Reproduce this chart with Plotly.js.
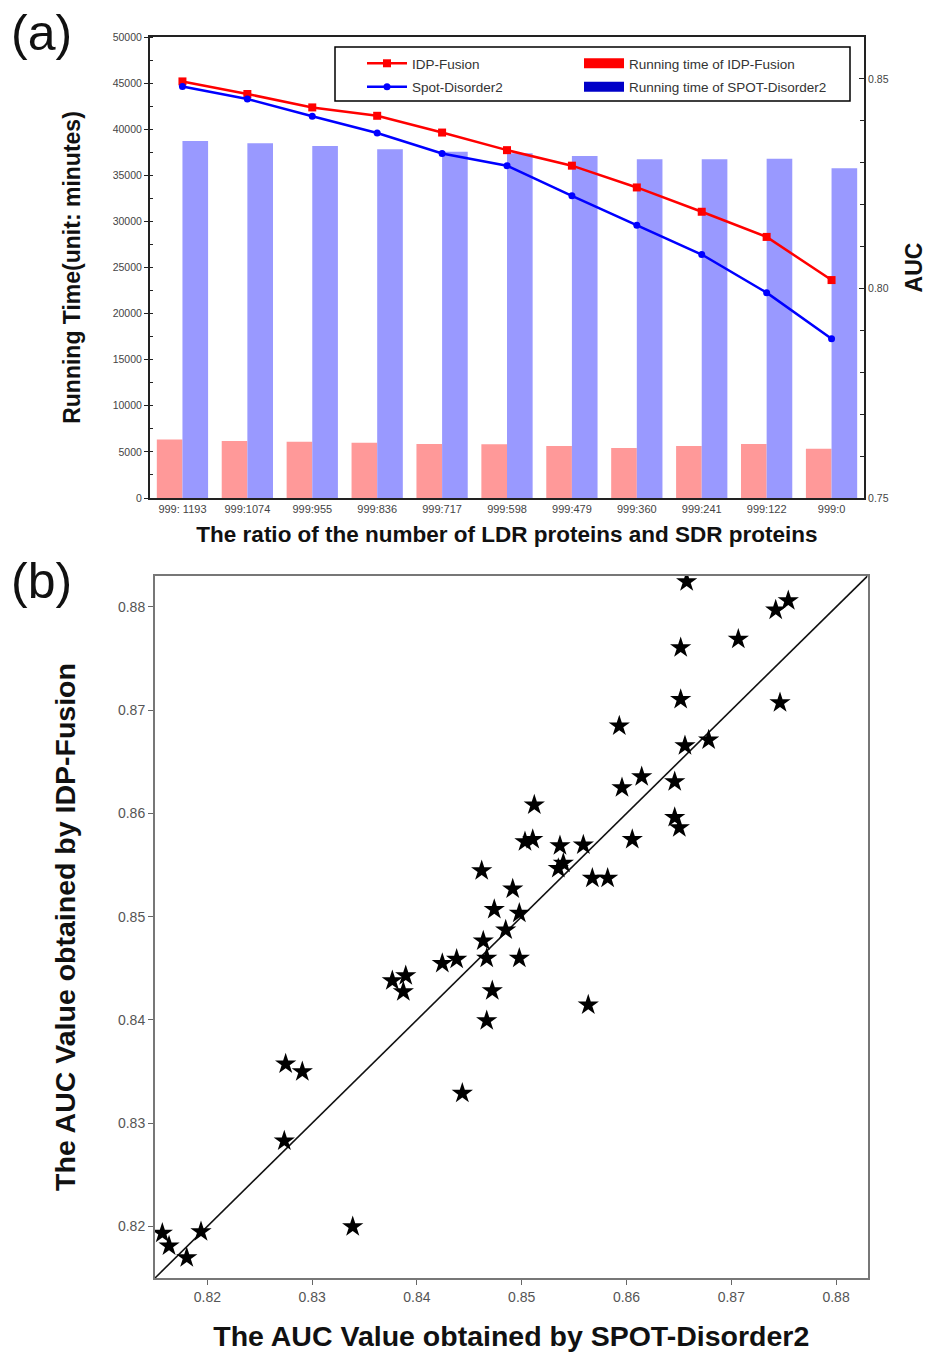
<!DOCTYPE html>
<html>
<head>
<meta charset="utf-8">
<script src="https://cdn.plot.ly/plotly-3.0.1.min.js"></script>
<style>html,body{margin:0;padding:0;background:#fff;}#chart{width:927px;height:1356px;}</style>
</head>
<body>
<div id="chart"></div>
<script>
// ---- Panel (a) data ----
const categories = ['999: 1193','999:1074','999:955','999:836','999:717','999:598','999:479','999:360','999:241','999:122','999:0'];
const timeIDP  = [6350, 6180, 6110, 6000, 5860, 5820, 5640, 5420, 5640, 5860, 5350];
const timeSPOT = [38720, 38470, 38180, 37820, 37560, 37400, 37090, 36730, 36730, 36800, 35760];
const aucIDP   = [0.8494, 0.8464, 0.8432, 0.8412, 0.8372, 0.8330, 0.8293, 0.8241, 0.8183, 0.8123, 0.8020];
const aucSPOT  = [0.8482, 0.8452, 0.8411, 0.8371, 0.8322, 0.8293, 0.8221, 0.8151, 0.8081, 0.7990, 0.7880];
const timeTicks = [0, 5000, 10000, 15000, 20000, 25000, 30000, 35000, 40000, 45000, 50000];
const aucTicks = [0.75, 0.80, 0.85];

// ---- Panel (b) data ----
const spotAUC = [0.86574,0.87424,0.87544,0.87067,0.86517,0.86517,0.87465,0.85931,0.86558,0.86784,
                 0.86145,0.85957,0.86460,0.86460,0.86504,0.85120,0.86055,0.85031,0.85105,0.85365,
                 0.85588,0.85397,0.85349,0.84618,0.85674,0.85820,0.84914,0.84738,0.84977,0.84847,
                 0.84633,0.84666,0.84977,0.84242,0.84379,0.83765,0.83893,0.83870,0.84719,0.84666,
                 0.85635,0.84433,0.82747,0.82906,0.82734,0.83387,0.81570,0.81634,0.81803,0.81939];
const idpAUC  = [0.88244,0.87970,0.88060,0.87687,0.87605,0.87105,0.87072,0.86847,0.86656,0.86711,
                 0.86356,0.86249,0.86307,0.85962,0.85862,0.86082,0.85749,0.85726,0.85749,0.85687,
                 0.85694,0.85517,0.85468,0.85445,0.85372,0.85372,0.85268,0.85071,0.85033,0.84871,
                 0.84764,0.84597,0.84597,0.84548,0.84587,0.84380,0.84428,0.84273,0.84283,0.83992,
                 0.84144,0.83289,0.83573,0.83498,0.82827,0.81997,0.81933,0.81810,0.81697,0.81948];
const scatterRange = [0.815, 0.883];
const scatterTicks = [0.82, 0.83, 0.84, 0.85, 0.86, 0.87, 0.88];

const FONT = 'Liberation Sans, Arial, sans-serif';

const traces = [
  // real bars (legend entries are given by the swatch traces below)
  {type:'bar', x:categories, y:timeIDP, xaxis:'x', yaxis:'y', marker:{color:'#ff9999'}, showlegend:false, name:'Running time of IDP-Fusion'},
  {type:'bar', x:categories, y:timeSPOT, xaxis:'x', yaxis:'y', marker:{color:'#9999ff'}, showlegend:false, name:'Running time of SPOT-Disorder2'},
  // AUC lines
  {type:'scatter', mode:'lines+markers', x:categories, y:aucIDP, xaxis:'x', yaxis:'y2', name:'IDP-Fusion',
   line:{color:'#ff0000', width:2.5}, marker:{symbol:'square', size:8, color:'#ff0000'}, legend:'legend', legendgroup:'g1'},
  {type:'scatter', mode:'lines+markers', x:categories, y:aucSPOT, xaxis:'x', yaxis:'y2', name:'Spot-Disorder2',
   line:{color:'#0000ff', width:2.5}, marker:{symbol:'circle', size:7, color:'#0000ff'}, legend:'legend', legendgroup:'g2'},
  // legend swatches for the bars
  {type:'scatter', mode:'lines', x:[categories[0]], y:[null], xaxis:'x', yaxis:'y2', name:'Running time of IDP-Fusion',
   line:{color:'#ff0000', width:12}, legend:'legend2', legendgroup:'g3', hoverinfo:'skip'},
  {type:'scatter', mode:'lines', x:[categories[0]], y:[null], xaxis:'x', yaxis:'y2', name:'Running time of SPOT-Disorder2',
   line:{color:'#0000c8', width:12}, legend:'legend2', legendgroup:'g4', hoverinfo:'skip'},
  // panel (b)
  {type:'scatter', mode:'lines', x:scatterRange, y:scatterRange, xaxis:'x2', yaxis:'y3', showlegend:false,
   line:{color:'#111', width:1.6}, hoverinfo:'skip'},
  {type:'scatter', mode:'markers', x:spotAUC, y:idpAUC, xaxis:'x2', yaxis:'y3', showlegend:false,
   marker:{symbol:'star', size:16, color:'#000', line:{width:0}}}
];

const W = 927, H = 1356;
const px = v => v / W;
const py = v => 1 - v / H;

const legendCommon = {
  yanchor: 'top', xanchor: 'left', orientation: 'v', borderwidth: 0, bgcolor: 'rgba(255,255,255,0)',
  font: {family: FONT, size: 13.5, color: '#333'}, traceorder: 'grouped', tracegroupgap: 3, itemwidth: 40
};

const layout = {
  width: W, height: H,
  margin: {l:0, r:0, t:0, b:0},
  paper_bgcolor: '#fff', plot_bgcolor: 'rgba(0,0,0,0)',
  font: {family: FONT, color: '#222'},
  barmode: 'group', bargap: 0.21, bargroupgap: 0,
  showlegend: true,
  legend: Object.assign({}, legendCommon, {x: px(362), y: py(48)}),
  legend2: Object.assign({}, legendCommon, {x: px(579), y: py(48)}),
  shapes: [
    {type: 'rect', xref: 'paper', yref: 'paper', x0: px(335), x1: px(850), y0: py(101), y1: py(47),
     line: {color: '#000', width: 1.5}, fillcolor: 'rgba(0,0,0,0)', layer: 'above'}
  ],
  xaxis: {
    domain: [px(150), px(864)], anchor: 'y', type: 'category',
    range: [-0.5, 10.5], showline: true, mirror: true, linecolor: '#222', linewidth: 2,
    ticks: '', showgrid: false, zeroline: false,
    tickfont: {family: FONT, size: 11, color: '#444'},
    title: {text: 'The ratio of the number of LDR proteins and SDR proteins', standoff: 12,
            font: {family: FONT, size: 22.5, weight: 'bold', color: '#111'}}
  },
  yaxis: {
    domain: [py(498), py(37)], anchor: 'x', range: [0, 50000],
    tickmode: 'array', tickvals: timeTicks, ticktext: timeTicks.map(String),
    ticks: 'outside', ticklen: 4, tickcolor: '#222',
    minor: {dtick: 2500, ticks: 'inside', ticklen: 3, tickcolor: '#222', showgrid: false},
    showline: true, linecolor: '#222', linewidth: 2, showgrid: false, zeroline: false,
    tickfont: {family: FONT, size: 10.5, color: '#444'},
    title: {text: 'Running Time(unit: minutes)', standoff: 26,
            font: {family: FONT, size: 23, weight: 'bold', color: '#111'}}
  },
  yaxis2: {
    overlaying: 'y', side: 'right', anchor: 'x', range: [0.75, 0.86],
    tickmode: 'array', tickvals: aucTicks, ticktext: aucTicks.map(v => v.toFixed(2)),
    ticks: 'inside', ticklen: 5, tickcolor: '#222',
    minor: {dtick: 0.01, tick0: 0.75, ticks: 'inside', ticklen: 4, tickcolor: '#222', showgrid: false},
    showline: true, linecolor: '#222', linewidth: 2, showgrid: false, zeroline: false,
    tickfont: {family: FONT, size: 10.5, color: '#444'},
    title: {text: 'AUC', standoff: 18,
            font: {family: FONT, size: 23, weight: 'bold', color: '#111'}}
  },
  xaxis2: {
    domain: [px(155), px(867.5)], anchor: 'y3', range: scatterRange,
    tickmode: 'array', tickvals: scatterTicks, ticktext: scatterTicks.map(v => v.toFixed(2)),
    ticks: 'outside', ticklen: 5, tickcolor: '#666',
    showline: true, mirror: true, linecolor: '#777', linewidth: 2, showgrid: false, zeroline: false,
    tickfont: {family: FONT, size: 14, color: '#555'},
    title: {text: 'The AUC Value obtained by SPOT-Disorder2', standoff: 22,
            font: {family: FONT, size: 28.5, weight: 'bold', color: '#111'}}
  },
  yaxis3: {
    domain: [py(1278), py(576)], anchor: 'x2', range: scatterRange,
    tickmode: 'array', tickvals: scatterTicks, ticktext: scatterTicks.map(v => v.toFixed(2)),
    ticks: 'outside', ticklen: 5, tickcolor: '#666',
    showline: true, mirror: true, linecolor: '#777', linewidth: 2, showgrid: false, zeroline: false,
    tickfont: {family: FONT, size: 14, color: '#555'},
    title: {text: 'The AUC Value obtained by IDP-Fusion', standoff: 34,
            font: {family: FONT, size: 28.5, weight: 'bold', color: '#111'}}
  },
  annotations: [
    {text: '(a)', xref: 'paper', yref: 'paper', x: px(9), y: py(33), xanchor: 'left', yanchor: 'middle',
     showarrow: false, font: {family: FONT, size: 50, color: '#111'}},
    {text: '(b)', xref: 'paper', yref: 'paper', x: px(9), y: py(581), xanchor: 'left', yanchor: 'middle',
     showarrow: false, font: {family: FONT, size: 50, color: '#111'}}
  ]
};

Plotly.newPlot('chart', traces, layout, {displayModeBar: false, staticPlot: true});
</script>
</body>
</html>
